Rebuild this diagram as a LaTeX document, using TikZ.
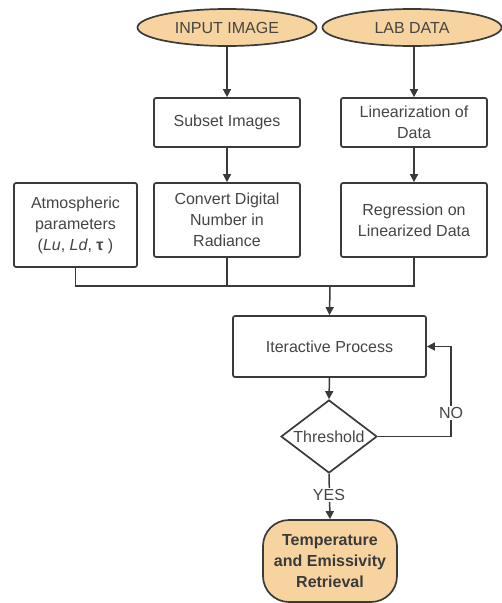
\documentclass[tikz,border=0pt]{standalone}
\usepackage{fontspec}
\setmainfont{Liberation Sans}
\usetikzlibrary{shapes.geometric,arrows.meta}
\definecolor{tan}{HTML}{F7D3A0}
\definecolor{ln}{HTML}{3A3A3A}
\definecolor{tx}{HTML}{454545}
\tikzset{
  box/.style={draw=ln,line width=1.7pt,rounded corners=2pt,fill=white,text=tx,align=center,
    font=\fontsize{16}{21}\selectfont,inner sep=2pt},
  term/.style={draw=ln,line width=1.7pt,ellipse,fill=tan,text=tx,font=\fontsize{16}{18}\selectfont,inner sep=0pt},
  arr/.style={draw=ln,line width=1.5pt,-{Triangle[length=8pt,width=8pt]}},
  ln/.style={draw=ln,line width=1.5pt},
  lbl/.style={fill=white,text=tx,font=\fontsize{16}{18}\selectfont,inner sep=1pt}
}
\begin{document}
\begin{tikzpicture}[x=1pt,y=-1pt]
\useasboundingbox (0,0) rectangle (502,603);
\node[term,minimum width=179pt,minimum height=37pt] (in) at (227,27.5) {INPUT IMAGE};
\node[term,minimum width=179pt,minimum height=37pt] (lab) at (412,27.5) {LAB DATA};
\node[box,minimum width=146pt,minimum height=49pt] (sub) at (227,122.5) {Subset Images};
\node[box,minimum width=146pt,minimum height=49pt] (lin) at (414,122.5) {Linearization of\\Data};
\node[box,minimum width=146pt,minimum height=74pt] (conv) at (227,220) {Convert Digital\\Number in\\Radiance};
\node[box,minimum width=146pt,minimum height=74pt] (reg) at (414,220) {Regression on\\Linearized Data};
\node[box,minimum width=123pt,minimum height=84pt] (atm) at (75.5,225) {Atmospheric\\parameters\\(\textit{Lu}, \textit{Ld}, \textbf{τ} )};
\node[box,minimum width=193pt,minimum height=61pt] (iter) at (329.5,346.5) {Iteractive Process};
\node[draw=ln,line width=1.7pt,diamond,aspect=1.32,minimum width=96pt,minimum height=73pt,inner sep=0pt,fill=white,text=tx,font=\fontsize{16}{18}\selectfont] (thr) at (329,436.5) {Threshold};
\node[draw=ln,line width=1.7pt,rounded corners=26pt,fill=tan,text=ln,align=center,font=\bfseries\fontsize{16}{21}\selectfont,minimum width=134pt,minimum height=82pt,inner sep=0pt] (ter) at (330,561) {Temperature\\and Emissivity\\Retrieval};
\coordinate (m) at (330,286);
\coordinate (r) at (451,436.5);
\draw[arr] (in) -- (sub);
\draw[arr] (lab.south -| lin) -- (lin);
\draw[arr] (sub) -- (conv);
\draw[arr] (lin) -- (reg);
\draw[ln] (atm.south) |- (m) -| (reg.south);
\draw[ln] (conv.south) -- (conv.south |- m);
\draw[arr] (m) -- (iter.north);
\draw[arr] (iter.south) -- (thr.north);
\draw[arr] (thr.east) -- (r) |- (iter.east);
\node[lbl] (no) at (451,413) {NO};
\draw[arr] (thr.south) -- (ter.north);
\node[lbl] (yes) at (329,495) {YES};
\end{tikzpicture}
\end{document}
